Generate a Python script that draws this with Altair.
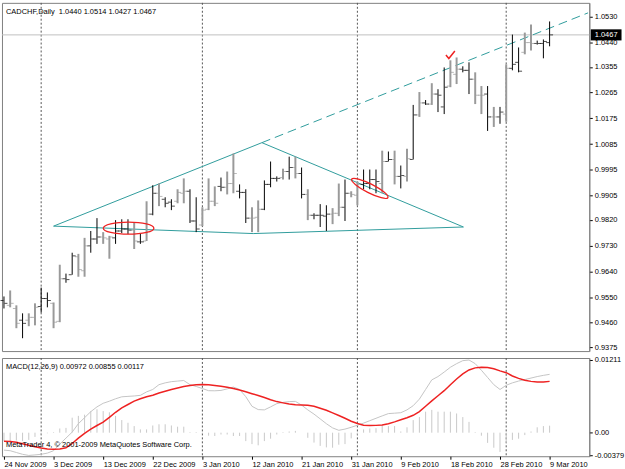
import altair as alt
import pandas as pd

symbol = "CADCHF"
period = "Daily"

opens = [0.9538, 0.9521, 0.9510, 0.9469, 0.9469, 0.9479, 0.9517, 0.9545, 0.9528, 0.9465,
         0.9614, 0.9628, 0.9691, 0.9642, 0.9729, 0.9753, 0.9760, 0.9753, 0.9757, 0.9781,
         0.9788, 0.9784, 0.9743, 0.9746, 0.9840, 0.9913, 0.9892, 0.9882, 0.9885, 0.9913,
         0.9920, 0.9816, 0.9802, 0.9857, 0.9885, 0.9937, 0.9934, 0.9947, 0.9920, 0.9916,
         0.9826, 0.9829, 0.9857, 0.9944, 0.9965, 0.9968, 0.9989, 1.0003, 0.9982, 0.9909,
         0.9836, 0.9836, 0.9833, 0.9840, 0.9843, 0.9864, 0.9913, 0.9906, 0.9944, 0.9947,
         0.9961, 0.9947, 1.0024, 1.0031, 0.9972, 0.9972, 1.0031, 1.0187, 1.0229, 1.0225,
         1.0260, 1.0215, 1.0288, 1.0329, 1.0347, 1.0343, 1.0312, 1.0256, 1.0260, 1.0180,
         1.0180, 1.0190, 1.0350, 1.0371, 1.0406, 1.0440, 1.0437, 1.0437, 1.0440]
highs = [0.9552, 0.9573, 0.9521, 0.9493, 0.9493, 0.9528, 0.9583, 0.9566, 0.9531, 0.9663,
         0.9632, 0.9705, 0.9701, 0.9757, 0.9781, 0.9826, 0.9777, 0.9764, 0.9819, 0.9822,
         0.9822, 0.9812, 0.9774, 0.9885, 0.9941, 0.9947, 0.9899, 0.9892, 0.9927, 0.9965,
         0.9927, 0.9899, 0.9864, 0.9965, 0.9937, 0.9968, 0.9989, 1.0052, 0.9944, 0.9927,
         0.9864, 0.9888, 0.9958, 1.0024, 0.9972, 0.9999, 1.0041, 1.0041, 1.0003, 0.9927,
         0.9843, 0.9875, 0.9871, 0.9861, 0.9947, 0.9961, 0.9920, 0.9954, 0.9996, 0.9996,
         0.9996, 1.0062, 1.0059, 1.0062, 1.0010, 1.0069, 1.0222, 1.0267, 1.0239, 1.0298,
         1.0277, 1.0353, 1.0378, 1.0388, 1.0357, 1.0371, 1.0336, 1.0288, 1.0288, 1.0215,
         1.0215, 1.0364, 1.0468, 1.0423, 1.0475, 1.0503, 1.0447, 1.0451, 1.0514]
lows = [0.9510, 0.9514, 0.9441, 0.9406, 0.9448, 0.9451, 0.9496, 0.9514, 0.9441, 0.9462,
        0.9600, 0.9628, 0.9621, 0.9621, 0.9705, 0.9736, 0.9736, 0.9684, 0.9736, 0.9774,
        0.9770, 0.9718, 0.9736, 0.9746, 0.9836, 0.9868, 0.9864, 0.9854, 0.9878, 0.9878,
        0.9809, 0.9777, 0.9798, 0.9854, 0.9868, 0.9920, 0.9909, 0.9913, 0.9895, 0.9809,
        0.9777, 0.9777, 0.9854, 0.9934, 0.9954, 0.9961, 0.9961, 0.9965, 0.9895, 0.9819,
        0.9822, 0.9795, 0.9781, 0.9805, 0.9833, 0.9816, 0.9899, 0.9871, 0.9927, 0.9927,
        0.9913, 0.9913, 1.0024, 0.9944, 0.9930, 0.9954, 1.0031, 1.0180, 1.0222, 1.0222,
        1.0197, 1.0190, 1.0284, 1.0295, 1.0336, 1.0260, 1.0225, 1.0190, 1.0131, 1.0145,
        1.0156, 1.0163, 1.0343, 1.0336, 1.0399, 1.0412, 1.0433, 1.0385, 1.0427]
closes = [0.9528, 0.9528, 0.9458, 0.9458, 0.9479, 0.9514, 0.9545, 0.9538, 0.9462, 0.9614,
          0.9611, 0.9694, 0.9646, 0.9729, 0.9753, 0.9760, 0.9757, 0.9760, 0.9781, 0.9788,
          0.9784, 0.9746, 0.9743, 0.9840, 0.9913, 0.9902, 0.9878, 0.9868, 0.9916, 0.9920,
          0.9816, 0.9788, 0.9854, 0.9885, 0.9878, 0.9934, 0.9947, 0.9982, 0.9916, 0.9826,
          0.9826, 0.9857, 0.9944, 0.9965, 0.9965, 0.9989, 1.0003, 0.9982, 0.9909, 0.9836,
          0.9836, 0.9836, 0.9840, 0.9843, 0.9864, 0.9913, 0.9909, 0.9944, 0.9947, 0.9961,
          0.9954, 1.0024, 1.0031, 0.9972, 0.9975, 1.0034, 1.0187, 1.0229, 1.0225, 1.0260,
          1.0256, 1.0284, 1.0336, 1.0347, 1.0343, 1.0312, 1.0256, 1.0256, 1.0180, 1.0180,
          1.0197, 1.0350, 1.0364, 1.0340, 1.0440, 1.0437, 1.0437, 1.0444, 1.0467]
tones = ["k", "g", "g", "k", "g", "g", "k", "k", "g", "g",
         "k", "k", "g", "g", "k", "k", "g", "g", "k", "k",
         "k", "g", "k", "g", "k", "g", "k", "k", "g", "g",
         "k", "k", "g", "g", "g", "k", "g", "g", "k", "k",
         "g", "g", "k", "k", "k", "g", "k", "g", "k", "g",
         "k", "k", "k", "g", "g", "k", "g", "g", "k", "k",
         "k", "g", "k", "g", "k", "g", "k", "g", "k", "g",
         "k", "k", "g", "g", "k", "k", "g", "g", "k", "g",
         "k", "g", "k", "k", "g", "g", "k", "k", "k"]

macd_main = [-0.00290, -0.00300, -0.00330, -0.00360, -0.00379, -0.00370, -0.00360, -0.00340, -0.00300, -0.00190,
             -0.00090, 0.00010, 0.00150, 0.00250, 0.00350, 0.00430, 0.00490, 0.00525, 0.00565, 0.00598,
             0.00605, 0.00612, 0.00622, 0.00680, 0.00720, 0.00800, 0.00830, 0.00850, 0.00860, 0.00869,
             0.00800, 0.00770, 0.00735, 0.00700, 0.00698, 0.00704, 0.00730, 0.00760, 0.00720, 0.00600,
             0.00440, 0.00385, 0.00380, 0.00430, 0.00484, 0.00505, 0.00518, 0.00522, 0.00460, 0.00380,
             0.00310, 0.00230, 0.00150, 0.00080, 0.00040, 0.00060, 0.00090, 0.00125, 0.00160, 0.00200,
             0.00240, 0.00280, 0.00318, 0.00325, 0.00333, 0.00380, 0.00450, 0.00560, 0.00720, 0.00880,
             0.00935, 0.01010, 0.01090, 0.01150, 0.01200, 0.01211, 0.01150, 0.01040, 0.00920, 0.00800,
             0.00720, 0.00790, 0.00830, 0.00860, 0.00885, 0.00910, 0.00935, 0.00955, 0.00972]
macd_signal = [-0.00142, -0.00147, -0.00160, -0.00185, -0.00210, -0.00235, -0.00256, -0.00270, -0.00276, -0.00272,
               -0.00250, -0.00180, -0.00090, -0.00010, 0.00060, 0.00120, 0.00175, 0.00255, 0.00340, 0.00415,
               0.00470, 0.00525, 0.00565, 0.00600, 0.00625, 0.00660, 0.00690, 0.00720, 0.00745, 0.00770,
               0.00785, 0.00798, 0.00803, 0.00798, 0.00788, 0.00775, 0.00758, 0.00735, 0.00710, 0.00682,
               0.00650, 0.00620, 0.00585, 0.00550, 0.00518, 0.00497, 0.00478, 0.00466, 0.00460, 0.00456,
               0.00440, 0.00408, 0.00373, 0.00330, 0.00286, 0.00240, 0.00190, 0.00152, 0.00125, 0.00120,
               0.00122, 0.00130, 0.00150, 0.00180, 0.00215, 0.00250, 0.00290, 0.00350, 0.00440, 0.00530,
               0.00615, 0.00700, 0.00800, 0.00895, 0.00980, 0.01045, 0.01080, 0.01091, 0.01085, 0.01065,
               0.01030, 0.01000, 0.00945, 0.00905, 0.00875, 0.00855, 0.00845, 0.00845, 0.00855]
macd_hist = [-0.00140, -0.00140, -0.00130, -0.00140, -0.00120, -0.00070, -0.00030, -0.00010, 0.00010, 0.00070,
             0.00080, 0.00250, 0.00280, 0.00300, 0.00360, 0.00390, 0.00360, 0.00340, 0.00280, 0.00210,
             0.00165, 0.00110, 0.00055, 0.00055, 0.00120, 0.00140, 0.00140, 0.00120, 0.00100, 0.00100,
             0.00010, 0.00010, -0.00010, -0.00050, -0.00055, -0.00030, -0.00030, -0.00055, -0.00055, -0.00140,
             -0.00190, -0.00210, -0.00140, -0.00100, -0.00030, 0.00010, 0.00020, 0.00030, 0.00000, -0.00085,
             -0.00165, -0.00220, -0.00245, -0.00250, -0.00200, -0.00190, -0.00095, -0.00030, 0.00055, 0.00070,
             0.00075, 0.00126, 0.00110, 0.00110, 0.00020, 0.00090, 0.00210, 0.00260, 0.00350, 0.00380,
             0.00350, 0.00350, 0.00350, 0.00320, 0.00260, 0.00180, 0.00010, -0.00050, -0.00170, -0.00250,
             -0.00320, -0.00170, -0.00120, -0.00100, -0.00040, 0.00020, 0.00090, 0.00110, 0.00117]

date_tick_idx = [0, 8, 16, 24, 32, 40, 48, 56, 64, 72, 80, 88]
date_tick_labels = ["24 Nov 2009", "3 Dec 2009", "13 Dec 2009", "22 Dec 2009", "3 Jan 2010",
                    "12 Jan 2010", "21 Jan 2010", "31 Jan 2010", "9 Feb 2010", "18 Feb 2010",
                    "28 Feb 2010", "9 Mar 2010"]
separator_idx = [6, 32, 57, 81]
price_ticks = [1.0530, 1.0440, 1.0355, 1.0265, 1.0175, 1.0085, 0.9995, 0.9905,
               0.9820, 0.9730, 0.9640, 0.9550, 0.9460, 0.9375]
macd_ticks = [0.01211, 0.0, -0.00379]

# trend-line drawing objects (bar index, price)
tri_upper_i = [8.0, 41.6]
tri_upper_p = [0.9798, 1.0090]
ray_i = [41.6, 94.2]
ray_p = [1.0090, 1.0544]
tri_desc_i = [41.6, 74.1]
tri_desc_p = [1.0090, 0.9795]
tri_base_i = [8.0, 40.2, 74.1]
tri_base_p = [0.9798, 0.9772, 0.9795]
ellipse_i = [20.1, 59.0]
ellipse_p = [0.9791, 0.9930]
check_i = [72.0]
check_p = [1.0395]

FONT = "Liberation Sans"
FS = 7.5
W = 592
H1 = 351
H2 = 99

xs = alt.Scale(domain=[-0.32, 94.4], nice=False, zero=False)
ps = alt.Scale(domain=[0.9361, 1.0579], nice=False, zero=False)
ms = alt.Scale(domain=[-0.00392, 0.01244], nice=False, zero=False)

price_axis = alt.Axis(orient="right", values=price_ticks, format=".4f", title=None, grid=False,
                      tickSize=3, labelPadding=2, labelOverlap=False, labelFlush=False,
                      domainColor="#808080", tickColor="#000000")
macd_axis = alt.Axis(orient="right", values=macd_ticks, title=None, grid=False,
                     tickSize=3, labelPadding=2, labelOverlap=False, labelFlush=False,
                     domainColor="#808080", tickColor="#000000",
                     labelExpr="datum.value == 0 ? '0.00' : replace(format(datum.value, '.5f'), '\u2212', '-')")
label_js = "[" + ",".join("'" + s + "'" for s in date_tick_labels) + "]"
date_axis = alt.Axis(orient="bottom", values=date_tick_idx, title=None, grid=False,
                     labelExpr=label_js + "[round(datum.value / 8)]",
                     labelAlign="left", labelFlush=False, labelOverlap=False,
                     tickSize=3, labelPadding=1, domain=False, tickColor="#000000")


def PX(f):
    return alt.X(f, type="quantitative", scale=xs, axis=None)


def PY(f):
    return alt.Y(f, type="quantitative", scale=ps, axis=price_axis)


def MX(f):
    return alt.X(f, type="quantitative", scale=xs, axis=date_axis)


def MY(f):
    return alt.Y(f, type="quantitative", scale=ms, axis=macd_axis)


bars = pd.DataFrame({"i": list(range(len(opens))), "open": opens, "high": highs,
                     "low": lows, "close": closes, "tone": tones})
tone_color = alt.Color("tone:N", scale=alt.Scale(domain=["g", "k"], range=["#9a9a9a", "#000000"]), legend=None)
tone_width = alt.StrokeWidth("tone:N", scale=alt.Scale(domain=["g", "k"], range=[2, 1]), legend=None)

sep_df = pd.DataFrame({"i": separator_idx})

sep_top = alt.Chart(sep_df).mark_rule(color="#555555", strokeDash=[2, 2], strokeWidth=1).encode(x=PX("i"))
price_line = alt.Chart(pd.DataFrame({"p": [closes[-1]]})).mark_rule(color="#c0c0c0", strokeWidth=1).encode(y=PY("p"))

teal = "#2f9c9c"
up_df = pd.DataFrame({"i": tri_upper_i, "p": tri_upper_p})
ray_df = pd.DataFrame({"i": ray_i, "p": ray_p})
desc_df = pd.DataFrame({"i": tri_desc_i, "p": tri_desc_p})
base_df = pd.DataFrame({"i": tri_base_i, "p": tri_base_p})
l_up = alt.Chart(up_df).mark_line(color=teal, strokeWidth=1).encode(x=PX("i"), y=PY("p"))
l_ray = alt.Chart(ray_df).mark_line(color=teal, strokeWidth=1, strokeDash=[9, 5]).encode(x=PX("i"), y=PY("p"))
l_desc = alt.Chart(desc_df).mark_line(color=teal, strokeWidth=1).encode(x=PX("i"), y=PY("p"))
l_base = alt.Chart(base_df).mark_line(color=teal, strokeWidth=1).encode(x=PX("i"), y=PY("p"))

hl = alt.Chart(bars).mark_rule().encode(x=PX("i"), y=PY("high"), y2="low", color=tone_color, strokeWidth=tone_width)
o_tick = alt.Chart(bars).mark_tick(orient="horizontal", size=3, thickness=1, xOffset=-2).encode(
    x=PX("i"), y=PY("open"), color=tone_color)
c_tick = alt.Chart(bars).mark_tick(orient="horizontal", size=3, thickness=1, xOffset=2).encode(
    x=PX("i"), y=PY("close"), color=tone_color)

red = "#ee2222"
ell1 = alt.Chart(pd.DataFrame({"i": [ellipse_i[0]], "p": [ellipse_p[0]]})).mark_point(
    shape="M -1 0 A 1 0.24 0 1 1 1 0 A 1 0.24 0 1 1 -1 0 Z", size=2601, filled=False,
    color=red, strokeWidth=1.3, opacity=1).encode(x=PX("i"), y=PY("p"))
ell2 = alt.Chart(pd.DataFrame({"i": [ellipse_i[1]], "p": [ellipse_p[1]]})).mark_point(
    shape="M -1 0 A 1 0.22 0 1 1 1 0 A 1 0.22 0 1 1 -1 0 Z", size=1681, angle=27, filled=False,
    color=red, strokeWidth=1.3, opacity=1).encode(x=PX("i"), y=PY("p"))
check = alt.Chart(pd.DataFrame({"i": check_i, "p": check_p})).mark_point(
    shape="M -1 -0.1 L -0.35 0.7 L 1 -1", size=81, filled=False, color=red, strokeWidth=1.5,
    opacity=1).encode(x=PX("i"), y=PY("p"))

title_txt = f"{symbol},{period}\u00a0 {opens[-1]:.4f} {highs[-1]:.4f} {lows[-1]:.4f} {closes[-1]:.4f}"
title = alt.Chart(pd.DataFrame({"t": [title_txt]})).mark_text(
    align="left", baseline="middle", font=FONT, fontSize=FS, color="#000000").encode(
    text="t:N", x=alt.value(4), y=alt.value(9))

last_df = pd.DataFrame({"p": [closes[-1]], "t": [f"{closes[-1]:.4f}"]})
last_box = alt.Chart(last_df).mark_point(
    shape="M -1 -0.36 L 1 -0.36 L 1 0.36 L -1 0.36 Z", size=31 * 31, filled=True,
    color="#000000", opacity=1).encode(x=alt.value(609), y=PY("p"))
last_txt = alt.Chart(last_df).mark_text(
    align="center", baseline="middle", font=FONT, fontSize=FS, color="#ffffff").encode(
    text="t:N", x=alt.value(609), y=PY("p"))

top = alt.layer(sep_top, price_line, l_base, l_up, l_ray, l_desc, hl, o_tick, c_tick,
                ell1, ell2, check, title, last_box, last_txt).properties(width=W, height=H1)

mdf = pd.DataFrame({"i": list(range(len(macd_main))), "m": macd_main, "s": macd_signal,
                    "h": macd_hist, "z": [0.0] * len(macd_main)})
sep_bot = alt.Chart(sep_df).mark_rule(color="#555555", strokeDash=[2, 2], strokeWidth=1).encode(x=MX("i"))
hist = alt.Chart(mdf).mark_rule(color="#c8c8c8", strokeWidth=1).encode(x=MX("i"), y=MY("z"), y2="h")
mline = alt.Chart(mdf).mark_line(color="#c4c4c4", strokeWidth=1).encode(x=MX("i"), y=MY("m"))
sline = alt.Chart(mdf).mark_line(color=red, strokeWidth=1.5).encode(x=MX("i"), y=MY("s"))
macd_txt = f"MACD(12,26,9) {macd_main[-1]:.5f} {macd_signal[-1]:.5f} {macd_hist[-1]:.5f}"
mtitle = alt.Chart(pd.DataFrame({"t": [macd_txt]})).mark_text(
    align="left", baseline="middle", font=FONT, fontSize=FS, color="#000000").encode(
    text="t:N", x=alt.value(4), y=alt.value(9))
copyr = alt.Chart(pd.DataFrame({"t": ["MetaTrader 4, \u00a9 2001-2009 MetaQuotes Software Corp."]})).mark_text(
    align="left", baseline="middle", font=FONT, fontSize=FS, color="#000000").encode(
    text="t:N", x=alt.value(4), y=alt.value(88))

bottom = alt.layer(sep_bot, hist, mline, sline, mtitle, copyr).properties(width=W, height=H2)

chart = alt.vconcat(top, bottom, spacing=3).properties(
    padding={"left": 0, "top": 0, "right": 0, "bottom": 0}, background="#ffffff"
).configure_view(stroke="#808080", strokeWidth=1).configure_axis(
    labelFont=FONT, labelFontSize=FS, labelColor="#000000"
).configure_concat(spacing=3)

chart.save("out.html", embed_options={"renderer": "svg", "actions": False})
